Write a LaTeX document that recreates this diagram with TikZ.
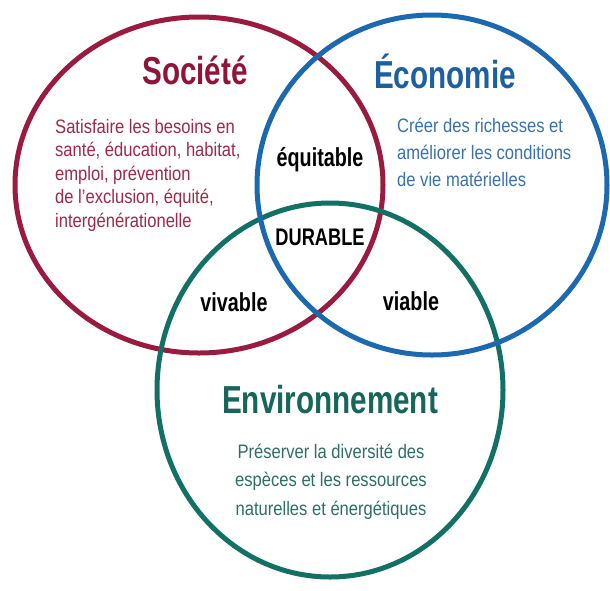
\documentclass[tikz,border=0pt]{standalone}
\usepackage{fontspec}
\newfontfamily\condbold{Liberation Sans Bold}[FakeStretch=0.76]
\newfontfamily\condreg{Liberation Sans}[FakeStretch=0.85]
\definecolor{socred}{HTML}{9A1B40}
\definecolor{socredtxt}{HTML}{9C2A4A}
\definecolor{socredtitle}{HTML}{8E1538}
\definecolor{ecoblue}{HTML}{1C69B0}
\definecolor{ecobluetxt}{HTML}{3A72AA}
\definecolor{ecobluetitle}{HTML}{1E5FA0}
\definecolor{envgreen}{HTML}{127064}
\definecolor{envgreentxt}{HTML}{2F6E66}
\definecolor{envgreentitle}{HTML}{17665A}
\tikzset{
  ring/.style={line width=5pt},
  titletext/.style={inner sep=0pt, anchor=base, font=\condbold\fontsize{39}{39}\selectfont},
  labeltext/.style={inner sep=0pt, anchor=base, font=\condbold\fontsize{26}{26}\selectfont, text=black},
  bodytext/.style={inner sep=0pt, font=\condreg\fontsize{19.5}{23.5}\selectfont},
}
\begin{document}
\begin{tikzpicture}[x=1pt,y=-1pt]
\useasboundingbox (0,0) rectangle (610,590);
\fill[white] (0,0) rectangle (610,590);
% rings
\draw[ring, socred] (199,185) ellipse [x radius=184, y radius=168];
\draw[ring, envgreen] (330,390) ellipse [x radius=173, y radius=187];
\draw[ring, ecoblue] (432,185) ellipse [x radius=175, y radius=170];
% titles
\node[titletext, text=socredtitle] (soc) at (195,84) {Société};
\node[titletext, text=ecobluetitle] (eco) at (445,88) {Économie};
\node[titletext, text=envgreentitle] (env) at (330,413) {Environnement};
% bodies (base anchor = baseline of the last line)
\node[bodytext, anchor=base west, align=left, text=socredtxt] (socbody) at (55,227)
  {Satisfaire les besoins en\\santé, éducation, habitat,\\emploi, prévention\\de l’exclusion, équité,\\intergénérationelle};
\node[bodytext, anchor=base west, align=left, text=ecobluetxt,
  font=\condreg\fontsize{19.5}{27}\selectfont] (ecobody) at (397,186)
  {Créer des richesses et\\améliorer les conditions\\de vie matérielles};
\node[bodytext, anchor=base, align=center, text=envgreentxt,
  font=\condreg\fontsize{19.5}{28.5}\selectfont] (envbody) at (331,515)
  {Préserver la diversité des\\espèces et les ressources\\naturelles et énergétiques};
% intersection labels
\node[labeltext] (equit) at (320,166) {équitable};
\node[labeltext, font=\condbold\fontsize{24}{24}\selectfont] (dur) at (320,245) {DURABLE};
\node[labeltext] (viv) at (234,311) {vivable};
\node[labeltext] (via) at (411,310) {viable};
\end{tikzpicture}
\end{document}
